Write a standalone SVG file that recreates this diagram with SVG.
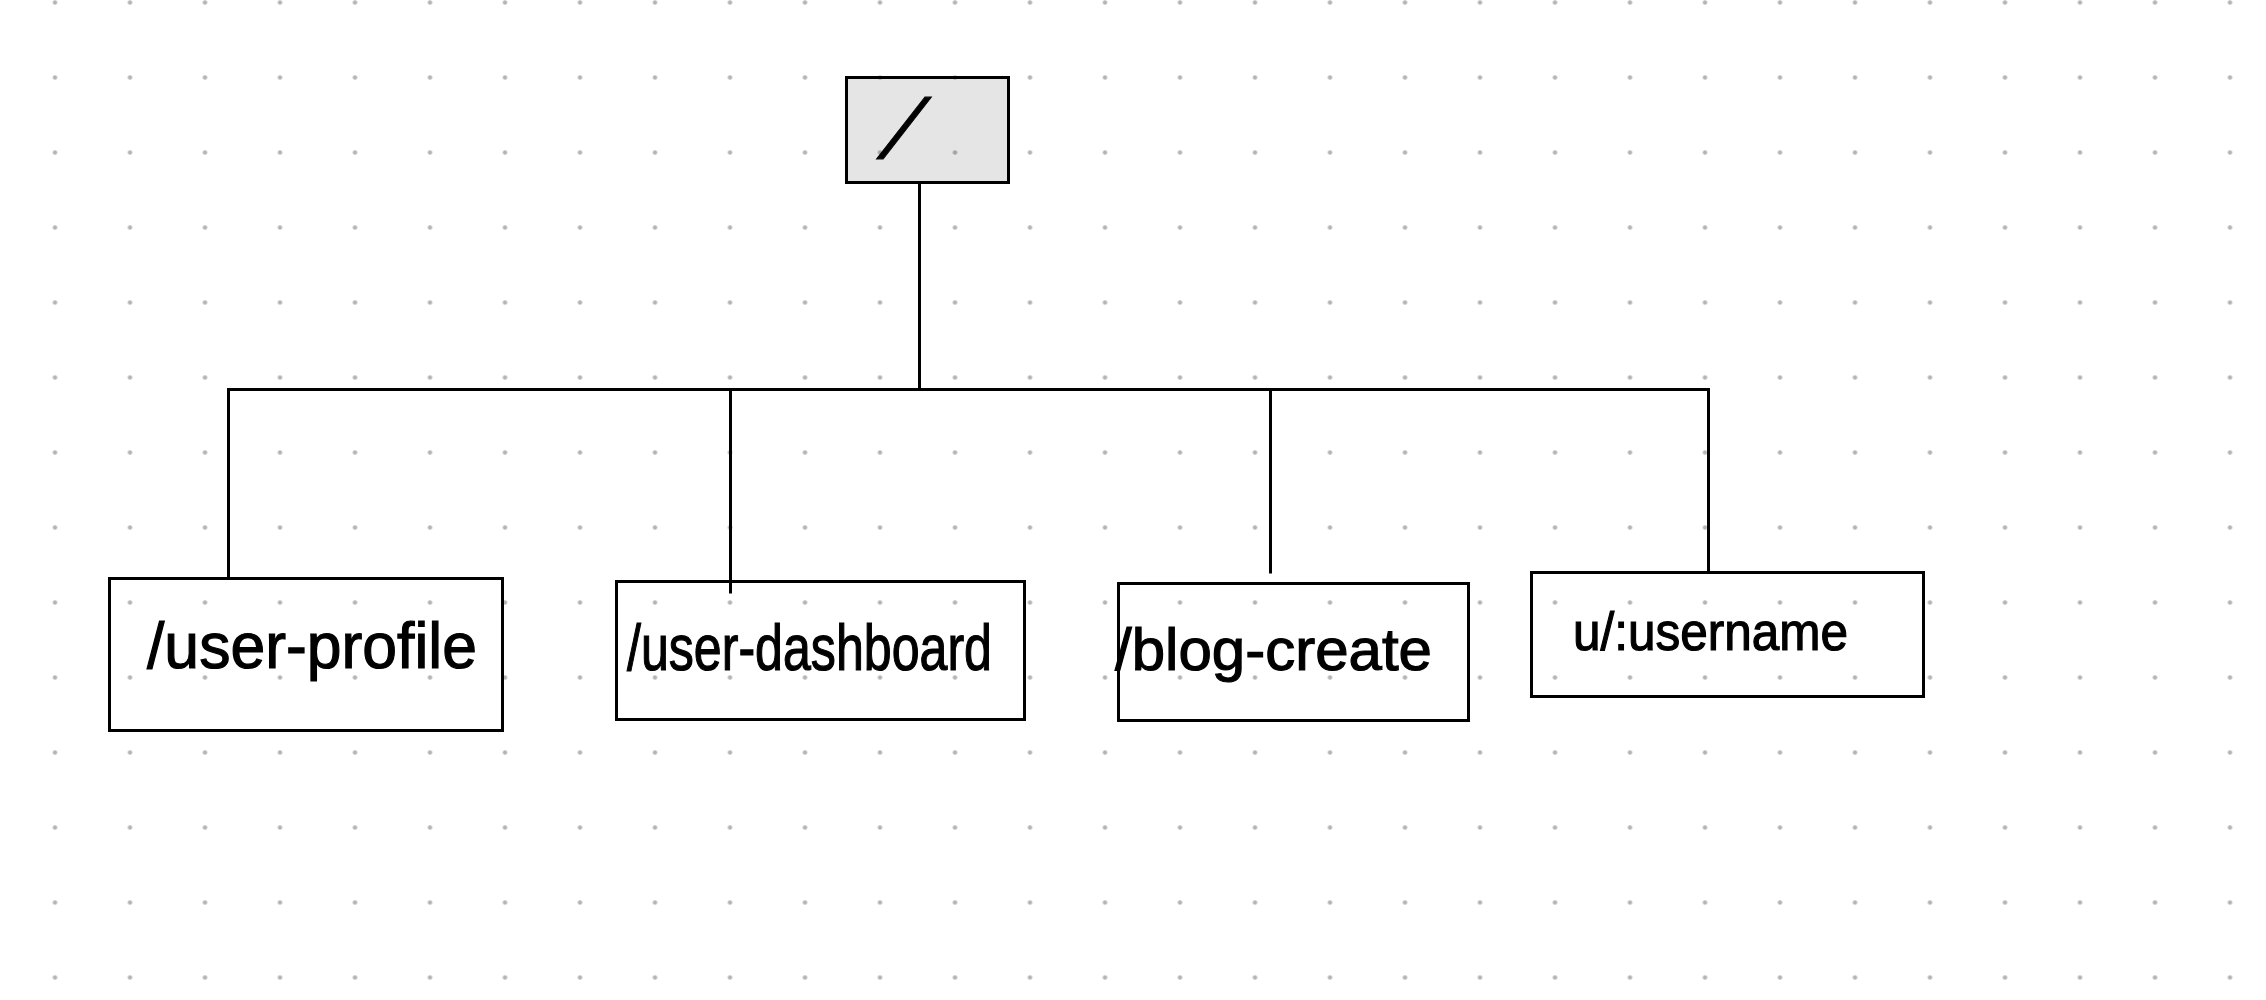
<svg xmlns="http://www.w3.org/2000/svg" width="2266" height="1000" viewBox="0 0 2266 1000">
<defs>
<pattern id="dots" patternUnits="userSpaceOnUse" x="17.5" y="-35" width="75" height="75">
<circle cx="37.5" cy="37.5" r="2.2" fill="#b4b4b4"/>
</pattern>
<style>
.box{fill:none;stroke:#000;stroke-width:3}
.root{fill:#e5e5e5;stroke:#000;stroke-width:3}
.conn{fill:none;stroke:#000;stroke-width:3;stroke-linecap:square}
.lbl{font-family:"Liberation Sans","DejaVu Sans",sans-serif;fill:#000;stroke:#000;stroke-width:1.2}
</style>
</defs>
<rect width="2266" height="1000" fill="#fff"/>
<g id="node-root">
<rect class="root" x="846.5" y="77.5" width="162" height="105"/>
<text class="lbl" x="0" y="0" font-size="84" transform="translate(877 158) skewX(-27)">/</text>
</g>
<g id="node-user-profile">
<rect class="box" x="109.5" y="578.5" width="393" height="152"/>
<text class="lbl" x="147" y="668" font-size="64" textLength="330" lengthAdjust="spacingAndGlyphs">/user-profile</text>
</g>
<g id="node-user-dashboard">
<rect class="box" x="616.5" y="581.5" width="408" height="138"/>
<text class="lbl" x="627" y="670" font-size="64" textLength="365" lengthAdjust="spacingAndGlyphs">/user-dashboard</text>
</g>
<g id="node-blog-create">
<rect class="box" x="1118.5" y="583.5" width="350" height="137"/>
<text class="lbl" x="1115" y="670" font-size="60" textLength="317" lengthAdjust="spacingAndGlyphs">/blog-create</text>
</g>
<g id="node-username">
<rect class="box" x="1531.5" y="572.5" width="392" height="124"/>
<text class="lbl" x="1573" y="650" font-size="54" textLength="275" lengthAdjust="spacingAndGlyphs">u/:username</text>
</g>
<g id="connectors">
<line class="conn" x1="919.5" y1="183" x2="919.5" y2="389.5"/>
<line class="conn" x1="228.5" y1="389.5" x2="1708.5" y2="389.5"/>
<line class="conn" x1="228.5" y1="389.5" x2="228.5" y2="577"/>
<line class="conn" x1="730.5" y1="389.5" x2="730.5" y2="592"/>
<line class="conn" x1="1270.5" y1="389.5" x2="1270.5" y2="572"/>
<line class="conn" x1="1708.5" y1="389.5" x2="1708.5" y2="571"/>
</g>
<rect width="2266" height="1000" fill="url(#dots)" style="mix-blend-mode:multiply"/>
</svg>
